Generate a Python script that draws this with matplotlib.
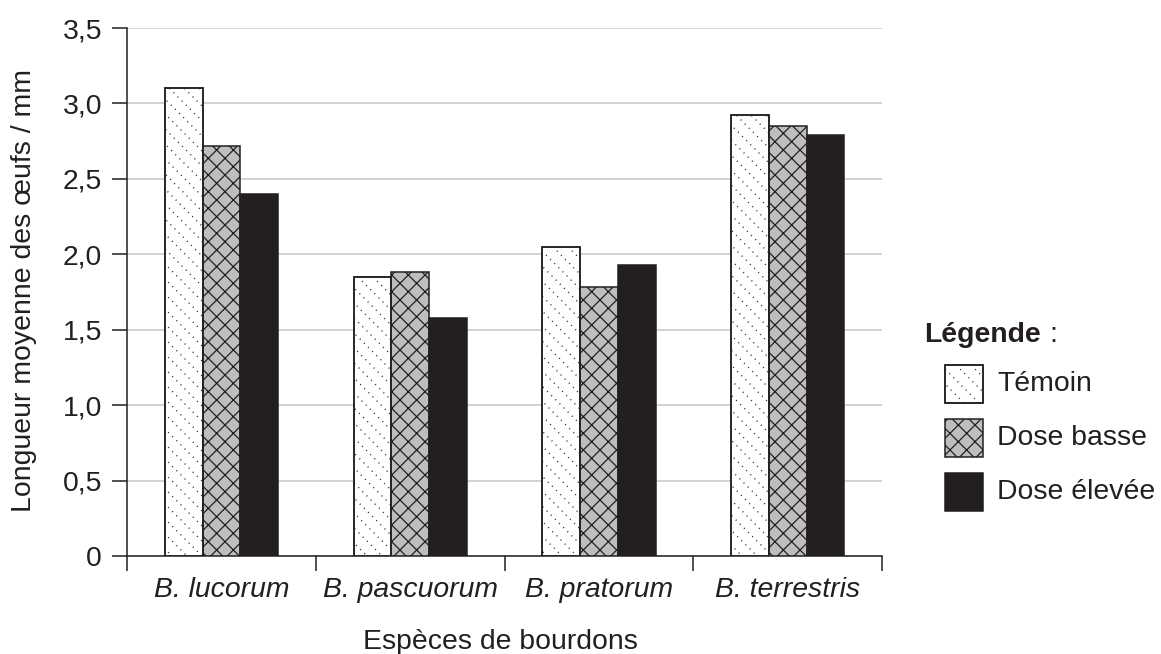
import numpy as np
import matplotlib
matplotlib.use("Agg")
import matplotlib.pyplot as plt
from matplotlib.collections import LineCollection
from matplotlib.patches import Rectangle
from matplotlib.transforms import IdentityTransform

# ---- data ----
species = ["B. lucorum", "B. pascuorum", "B. pratorum", "B. terrestris"]
series_names = ["Témoin", "Dose basse", "Dose élevée"]
temoin = [3.10, 1.85, 2.05, 2.92]
dose_basse = [2.72, 1.88, 1.78, 2.85]
dose_elevee = [2.40, 1.58, 1.93, 2.79]
yticks = [0, 0.5, 1.0, 1.5, 2.0, 2.5, 3.0, 3.5]
ytick_labels = ["0", "0,5", "1,0", "1,5", "2,0", "2,5", "3,0", "3,5"]
ylabel = "Longueur moyenne des œufs / mm"
xlabel = "Espèces de bourdons"
legend_title = "Légende"

plt.rcParams["font.family"] = ["Liberation Sans", "DejaVu Sans"]
plt.rcParams["hatch.linewidth"] = 0.9
TXT = "#231f20"
FS = 20.4
W, H = 1161, 654
fig = plt.figure(figsize=(W / 100, H / 100), dpi=100)
ax = fig.add_axes([127 / W, (H - 556) / H, (882 - 127) / W, (556 - 28) / H])
ax.set_xlim(-0.5, len(species) - 0.5)
ax.set_ylim(0, 3.5)

x = np.arange(len(species))
bw = 0.2
edge_lw = 1.1
b1 = ax.bar(x - bw, temoin, bw, color="white", edgecolor=TXT, linewidth=edge_lw, zorder=3)
b2 = ax.bar(x, dose_basse, bw, color="#bebebe", edgecolor=TXT, linewidth=edge_lw, hatch="xx", zorder=3)
b3 = ax.bar(x + bw, dose_elevee, bw, color="#231f20", edgecolor=TXT, linewidth=edge_lw, zorder=3)


def dotted_texture(patch, container, spacing=15.0):
    bb = patch.get_window_extent()
    x0, y0, x1, y1 = bb.x0, bb.y0, bb.x1, bb.y1
    kmin, kmax = x0 + y0, x1 + y1
    ks = np.arange(np.floor(kmin / spacing) * spacing, kmax + spacing, spacing)
    segs = [[(k - y1, y1), (k - y0, y0)] for k in ks]
    lc = LineCollection(segs, transform=IdentityTransform(), colors="#333333",
                        linewidths=1.0, linestyles=[(0, (0.8, 3.4))], zorder=3.5)
    if container is ax:
        ax.add_collection(lc, autolim=False)
    else:
        fig.add_artist(lc)
    lc.set_clip_path(patch)


for p in b1.patches:
    dotted_texture(p, ax)
    bb = p.get_bbox()
    ax.add_patch(Rectangle((bb.x0, bb.y0), bb.width, bb.height, fill=False,
                           edgecolor=TXT, linewidth=edge_lw, zorder=4))

# axes styling
for s in ["top", "right"]:
    ax.spines[s].set_visible(False)
for s in ["left", "bottom"]:
    ax.spines[s].set_linewidth(1.1)
    ax.spines[s].set_color(TXT)
ax.set_yticks(yticks)
ax.set_yticklabels(ytick_labels, fontsize=FS, color=TXT)
ax.yaxis.grid(True, color="#c6c6c6", linewidth=1.1)
ax.set_axisbelow(True)
ax.tick_params(axis="y", length=11, width=1.1, color=TXT, pad=7)

ax.set_xticks(np.arange(len(species) + 1) - 0.5)
ax.set_xticklabels([])
ax.set_xticks(x, minor=True)
ax.set_xticklabels(species, minor=True, fontsize=FS, style="italic", color=TXT)
ax.tick_params(axis="x", which="major", length=11, width=1.1, color=TXT)
ax.tick_params(axis="x", which="minor", length=0, pad=15)

fig.text(24 / W, (H - 290) / H, ylabel, rotation=90, ha="center", va="center",
         fontsize=FS, color=TXT)
fig.text(500 / W, (H - 649) / H, xlabel, ha="center", va="baseline",
         fontsize=FS, color=TXT)

# ---- legend ----
t = fig.text(924 / W, (H - 342) / H, legend_title, fontsize=FS, fontweight="bold",
             color=TXT, va="baseline")
fig.canvas.draw()
bbt = t.get_window_extent()
fig.text(bbt.x1 / W + 9 / W, (H - 342) / H, ":", fontsize=FS, color=TXT, va="baseline")

box_tops = [365, 419, 473]
box_styles = [dict(facecolor="white"), dict(facecolor="#bebebe", hatch="xx"),
              dict(facecolor="#231f20")]
for top, sty, name in zip(box_tops, box_styles, series_names):
    r = Rectangle((945, H - top - 38), 38, 38, transform=IdentityTransform(),
                  edgecolor=TXT, linewidth=edge_lw, zorder=3, **sty)
    fig.add_artist(r)
    if name == series_names[0]:
        dotted_texture(r, fig)
        fig.add_artist(Rectangle((945, H - top - 38), 38, 38, transform=IdentityTransform(),
                                 fill=False, edgecolor=TXT, linewidth=edge_lw, zorder=4))
    fig.text(997 / W, (H - top - 19) / H, name, fontsize=FS, color=TXT, va="center")

fig.savefig("out.png", dpi=100)
